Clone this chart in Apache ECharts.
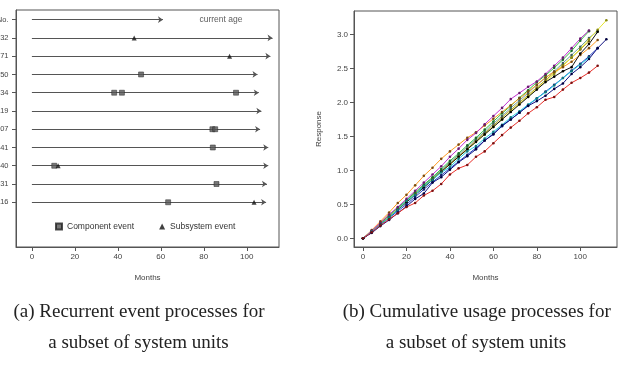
<!DOCTYPE html>
<html>
<head>
<meta charset="utf-8">
<script src="https://cdn.jsdelivr.net/npm/echarts@6/dist/echarts.min.js"></script>
<style>
  html, body { margin: 0; padding: 0; background: #fff; }
  #chart-container { width: 625px; height: 365px; }
</style>
</head>
<body>
<div id="chart-container"></div>
<script>
// ---- panel (a): recurrent events ----
var unitLabels = ["Unit No.", "132", "171", "150", "134", "119", "107", "141", "140", "131", "116"];
var currentAge = [61, 112, 111, 105, 105.6, 106.8, 106.2, 110, 110, 109.4, 109];
var componentEvents = [[50.8, 3], [38.3, 4], [41.9, 4], [95, 4], [84, 6], [85.3, 6], [84.2, 7], [10.4, 8], [85.9, 9], [63.4, 10]];
var subsystemEvents = [[47.6, 1], [92, 2], [12.2, 8], [103.4, 10]];
var monthTicks = [0, 20, 40, 60, 80, 100];

// ---- panel (b): cumulative usage ----
var months = [0, 4, 8, 12, 16, 20, 24, 28, 32, 36, 40, 44, 48, 52, 56, 60, 64, 68, 72, 76, 80, 84, 88, 92, 96, 100, 104, 108, 112];
var usageRed = [0, 0.09, 0.19, 0.28, 0.37, 0.46, 0.52, 0.63, 0.70, 0.80, 0.94, 1.03, 1.08, 1.20, 1.28, 1.40, 1.52, 1.63, 1.73, 1.84, 1.93, 2.04, 2.08, 2.19, 2.29, 2.36, 2.44, 2.54];
var usageNavy = [0, 0.08, 0.18, 0.27, 0.37, 0.47, 0.58, 0.66, 0.82, 0.90, 1.01, 1.12, 1.21, 1.31, 1.44, 1.53, 1.66, 1.75, 1.85, 1.95, 2.02, 2.10, 2.20, 2.28, 2.42, 2.52, 2.64, 2.80, 2.93];
var usageCyan = [0, 0.10, 0.20, 0.31, 0.42, 0.55, 0.64, 0.77, 0.86, 0.97, 1.05, 1.17, 1.28, 1.36, 1.47, 1.57, 1.67, 1.78, 1.87, 1.97, 2.06, 2.15, 2.25, 2.36, 2.46, 2.56, 2.66];
var usageBlue = [0, 0.09, 0.20, 0.30, 0.40, 0.50, 0.61, 0.72, 0.83, 0.93, 1.03, 1.13, 1.23, 1.33, 1.44, 1.54, 1.65, 1.75, 1.85, 1.96, 2.06, 2.16, 2.26, 2.36, 2.47, 2.57, 2.68, 2.80];
var usageMagenta = [0, 0.11, 0.23, 0.35, 0.46, 0.58, 0.70, 0.82, 0.94, 1.06, 1.20, 1.32, 1.45, 1.55, 1.68, 1.80, 1.92, 2.05, 2.14, 2.23, 2.31, 2.42, 2.54, 2.66, 2.80, 2.94, 3.06];
var usageGreen = [0, 0.11, 0.22, 0.34, 0.45, 0.56, 0.68, 0.79, 0.90, 1.02, 1.14, 1.25, 1.37, 1.48, 1.60, 1.72, 1.84, 1.95, 2.07, 2.18, 2.30, 2.40, 2.51, 2.63, 2.76, 2.91, 3.05];
var usageTeal = [0, 0.10, 0.21, 0.33, 0.44, 0.55, 0.66, 0.78, 0.89, 1.00, 1.12, 1.23, 1.35, 1.46, 1.57, 1.69, 1.80, 1.92, 2.03, 2.14, 2.26, 2.36, 2.46, 2.58, 2.70, 2.82, 2.95, 3.05];
var usageYellow = [0, 0.10, 0.21, 0.32, 0.43, 0.54, 0.65, 0.76, 0.87, 0.98, 1.09, 1.20, 1.31, 1.42, 1.53, 1.64, 1.75, 1.87, 1.98, 2.09, 2.20, 2.31, 2.42, 2.54, 2.66, 2.79, 2.93, 3.07, 3.21];
var usageOrange = [0, 0.12, 0.25, 0.38, 0.52, 0.64, 0.78, 0.92, 1.04, 1.17, 1.28, 1.38, 1.48, 1.56, 1.66, 1.76, 1.86, 1.96, 2.06, 2.16, 2.26, 2.37, 2.45, 2.52, 2.60, 2.70, 2.80, 2.92];
var usageBlack = [0, 0.09, 0.20, 0.31, 0.42, 0.53, 0.64, 0.75, 0.86, 0.98, 1.09, 1.20, 1.31, 1.42, 1.53, 1.64, 1.75, 1.86, 1.97, 2.08, 2.19, 2.30, 2.38, 2.46, 2.52, 2.72, 2.86, 3.04];
var usageOlive = [0, 0.10, 0.21, 0.32, 0.43, 0.55, 0.66, 0.77, 0.88, 0.99, 1.10, 1.21, 1.32, 1.44, 1.55, 1.66, 1.78, 1.89, 2.00, 2.11, 2.22, 2.33, 2.44, 2.55, 2.66, 2.78, 2.90];
var responseTicks = [0, 0.5, 1, 1.5, 2, 2.5, 3];

var usageSeries = [
    { values: usageOlive, line: "#b8a820", point: "#6a5a10" },
    { values: usageTeal, line: "#70a0a0", point: "#3d6060" },
    { values: usageGreen, line: "#30c040", point: "#1c6a24" },
    { values: usageYellow, line: "#e6e630", point: "#8a8a10" },
    { values: usageOrange, line: "#ff9a20", point: "#7a4a10" },
    { values: usageMagenta, line: "#c030d0", point: "#6a1a70" },
    { values: usageBlack, line: "#111111", point: "#000000" },
    { values: usageBlue, line: "#2040c0", point: "#10206a" },
    { values: usageCyan, line: "#20d0e0", point: "#107a80" },
    { values: usageNavy, line: "#101080", point: "#000040" },
    { values: usageRed, line: "#e8302a", point: "#7a1010" }
];

var dom = document.getElementById("chart-container");
var myChart = echarts.init(dom, null, { renderer: "canvas" });

var axisText = { color: "#444", fontSize: 8, fontFamily: "Liberation Sans" };
var boxAxisLine = { show: true, onZero: false, lineStyle: { color: "#555", width: 1 } };
var rowTicks = unitLabels.map(function (d, i) { return i; });

var series = [];

// row arrows
series.push({
    type: "lines",
    coordinateSystem: "cartesian2d",
    xAxisIndex: 0,
    yAxisIndex: 0,
    symbol: ["none", "arrow"],
    symbolSize: [0, 5],
    silent: true,
    lineStyle: { color: "#555", width: 1, opacity: 1 },
    data: currentAge.map(function (a, i) {
        return { coords: [[0, i], [a, i]] };
    })
});
series.push({
    name: "Component event",
    type: "scatter",
    xAxisIndex: 0,
    yAxisIndex: 0,
    symbol: "rect",
    symbolSize: 5,
    itemStyle: { color: "#555", borderColor: "#222", borderWidth: 0.6 },
    data: componentEvents
});
series.push({
    name: "Subsystem event",
    type: "scatter",
    xAxisIndex: 0,
    yAxisIndex: 0,
    symbol: "triangle",
    symbolSize: 5,
    itemStyle: { color: "#111" },
    data: subsystemEvents
});
series.push({
    type: "scatter",
    xAxisIndex: 0,
    yAxisIndex: 0,
    symbolSize: 0,
    silent: true,
    label: { show: true, position: "inside", formatter: "current age", color: "#333", fontSize: 8.5, fontFamily: "Liberation Sans" },
    data: [[88, 0]]
});

usageSeries.forEach(function (s) {
    series.push({
        type: "line",
        xAxisIndex: 1,
        yAxisIndex: 1,
        symbol: "circle",
        symbolSize: 2.6,
        showSymbol: true,
        silent: true,
        lineStyle: { color: s.line, width: 1 },
        itemStyle: { color: s.point },
        data: s.values.map(function (v, i) { return [months[i], v]; })
    });
});

var captionFont = "19px 'Liberation Serif'";

var option = {
    animation: false,
    grid: [
        { left: 16, top: 10, width: 263, height: 237, outerBoundsMode: "none", show: true, borderColor: "#555", borderWidth: 1 },
        { left: 354, top: 11, width: 263, height: 236, outerBoundsMode: "none", show: true, borderColor: "#555", borderWidth: 1 }
    ],
    legend: {
        data: [
            { name: "Component event", icon: "rect" },
            { name: "Subsystem event", icon: "triangle" }
        ],
        left: 50,
        top: 217,
        itemWidth: 6,
        itemHeight: 6,
        itemGap: 25,
        textStyle: { color: "#333", fontSize: 8.5, fontFamily: "Liberation Sans" }
    },
    xAxis: [
        {
            gridIndex: 0, type: "value", min: -7.4, max: 115,
            name: "Months", nameLocation: "middle", nameGap: 27,
            nameTextStyle: axisText,
            axisLine: boxAxisLine,
            axisTick: { show: true, customValues: monthTicks, length: 4, lineStyle: { color: "#555" } },
            axisLabel: Object.assign({ customValues: monthTicks, margin: 6 }, axisText),
            splitLine: { show: false }
        },
        {
            gridIndex: 1, type: "value", min: -4.15, max: 116.9,
            name: "Months", nameLocation: "middle", nameGap: 27,
            nameTextStyle: axisText,
            axisLine: boxAxisLine,
            axisTick: { show: true, customValues: monthTicks, length: 4, lineStyle: { color: "#555" } },
            axisLabel: Object.assign({ customValues: monthTicks, margin: 6 }, axisText),
            splitLine: { show: false }
        }
    ],
    yAxis: [
        {
            gridIndex: 0, type: "value", inverse: true, min: -0.53, max: 12.45,
            axisLine: boxAxisLine,
            axisTick: { show: true, customValues: rowTicks, length: 4, lineStyle: { color: "#555" } },
            axisLabel: Object.assign({
                customValues: rowTicks,
                margin: 7.5,
                formatter: function (v) { return unitLabels[Math.round(v)]; }
            }, axisText, { fontSize: 7.5 }),
            splitLine: { show: false }
        },
        {
            gridIndex: 1, type: "value", min: -0.128, max: 3.347,
            name: "Response", nameLocation: "middle", nameGap: 31,
            nameTextStyle: axisText,
            axisLine: boxAxisLine,
            axisTick: { show: true, customValues: responseTicks, length: 4, lineStyle: { color: "#555" } },
            axisLabel: Object.assign({
                customValues: responseTicks,
                margin: 6,
                formatter: function (v) { return v.toFixed(1); }
            }, axisText),
            splitLine: { show: false }
        }
    ],
    graphic: [
        { type: "text", style: { x: 139, y: 312.5, text: "(a) Recurrent event processes for", font: captionFont, fill: "#222", align: "center", verticalAlign: "middle" } },
        { type: "text", style: { x: 138.5, y: 343.5, text: "a subset of system units", font: captionFont, fill: "#222", align: "center", verticalAlign: "middle" } },
        { type: "text", style: { x: 476.7, y: 312.5, text: "(b) Cumulative usage processes for", font: captionFont, fill: "#222", align: "center", verticalAlign: "middle" } },
        { type: "text", style: { x: 476, y: 343.5, text: "a subset of system units", font: captionFont, fill: "#222", align: "center", verticalAlign: "middle" } }
    ],
    series: series
};

myChart.setOption(option);
window.addEventListener("resize", myChart.resize);
</script>
</body>
</html>
